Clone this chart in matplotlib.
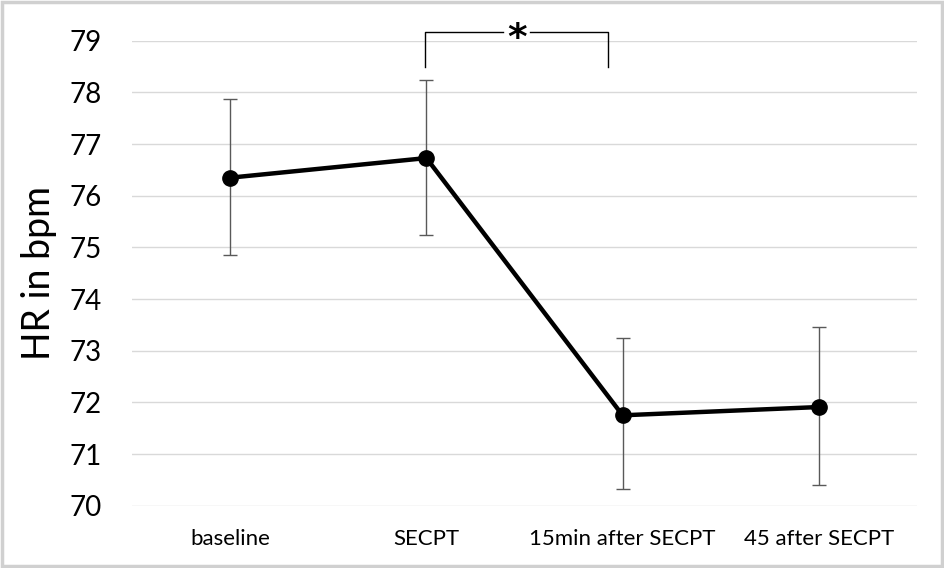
import matplotlib
matplotlib.use("Agg")
import matplotlib.pyplot as plt
from matplotlib.patches import Rectangle

plt.rcParams['font.family'] = ['Lato', 'DejaVu Sans']

# values
categories = ['baseline', 'SECPT', '15min after SECPT', '45 after SECPT']
hr_mean = [76.35, 76.73, 71.75, 71.91]
err_upper = [77.87, 78.24, 73.25, 73.46]
err_lower = [74.85, 75.24, 70.32, 70.40]
y_ticks = [70, 71, 72, 73, 74, 75, 76, 77, 78, 79]

# significance bracket between SECPT and 15min
sig_from, sig_to = 0.995, 1.925
sig_top, sig_bottom = 79.17, 78.49
sig_gap = 0.07
sig_label = '*'

fig = plt.figure(figsize=(9.45, 5.68), dpi=100)
ax = fig.add_axes([132 / 945, 1 - 505.7 / 568, 785 / 945, (505.7 - 40.8) / 568])

x = list(range(len(categories)))
yerr = [[m - lo for m, lo in zip(hr_mean, err_lower)],
        [hi - m for m, hi in zip(hr_mean, err_upper)]]

ax.errorbar(x, hr_mean, yerr=yerr, fmt='none', ecolor='#595959',
            elinewidth=1.0, capsize=5, capthick=1.0, zorder=3)
ax.plot(x, hr_mean, color='black', linewidth=3.2, marker='o',
        markersize=11, zorder=4)

ax.set_xlim(-0.5, len(categories) - 0.5)
ax.set_ylim(70, 79)
ax.set_yticks(y_ticks)
ax.set_xticks(x)
ax.set_xticklabels(categories, fontsize=16)
ax.tick_params(axis='x', length=0, pad=17)
ax.tick_params(axis='y', length=0, pad=22, labelsize=20)
ax.grid(axis='y', color='#d9d9d9', linewidth=1.0)
ax.set_axisbelow(True)
for s in ax.spines.values():
    s.set_visible(False)

ax.set_ylabel('HR in bpm', fontsize=27)
ax.yaxis.set_label_coords(-0.096, 0.5)

# bracket, with a gap where the asterisk sits
mid = (sig_from + sig_to) / 2
ax.plot([sig_from, sig_from, mid - sig_gap], [sig_bottom, sig_top, sig_top],
        color='black', linewidth=1.0, clip_on=False, zorder=5)
ax.plot([mid + sig_gap, sig_to, sig_to], [sig_top, sig_top, sig_bottom],
        color='black', linewidth=1.0, clip_on=False, zorder=5)
fs = 27
ax.annotate(sig_label, xy=(mid, sig_top), xytext=(0, -0.44 * fs),
            textcoords='offset points', ha='center', va='baseline',
            fontsize=fs, fontweight='bold', family='DejaVu Sans',
            annotation_clip=False, zorder=6)

# light frame around the figure
fig.patches.append(Rectangle((0.002, 0.003), 0.995, 0.994, transform=fig.transFigure,
                             fill=False, edgecolor='#d0d0d0', linewidth=2.5))

fig.savefig('out.png', dpi=100)
